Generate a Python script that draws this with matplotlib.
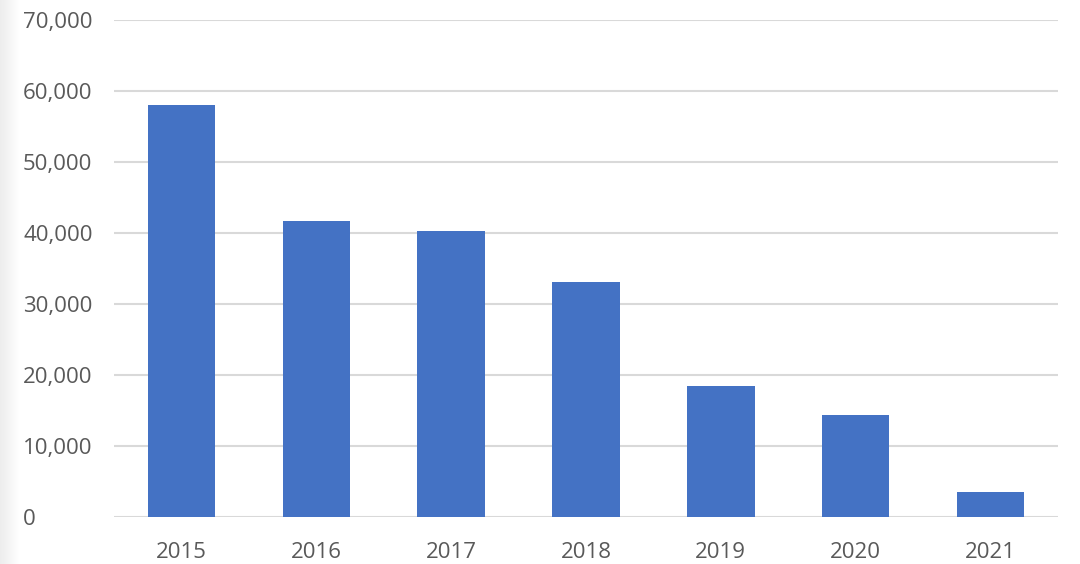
import numpy as np
import matplotlib.pyplot as plt
from matplotlib.ticker import FuncFormatter

# data
years = ['2015', '2016', '2017', '2018', '2019', '2020', '2021']
values = [58000, 41650, 40350, 33150, 18450, 14300, 3500]
yticks = [0, 10000, 20000, 30000, 40000, 50000, 60000, 70000]

bar_color = '#4472C4'
grid_color = '#D9D9D9'
label_color = '#595959'

plt.rcParams['font.family'] = ['Open Sans', 'DejaVu Sans']

fig = plt.figure(figsize=(10.8, 5.64), dpi=100)
ax = fig.add_axes([0.1056, 0.0833, 0.874, 0.8812])

x = np.arange(len(years))
ax.bar(x, values, width=0.5, color=bar_color, zorder=3)

ax.set_xlim(-0.5, len(years) - 0.5)
ax.set_ylim(0, 70000)
ax.set_yticks(yticks)
ax.yaxis.set_major_formatter(FuncFormatter(lambda v, p: f'{int(v):,}'))
ax.set_xticks(x)
ax.set_xticklabels(years)

ax.grid(axis='y', color=grid_color, linewidth=1.5, zorder=0)
for s in ['top', 'right', 'left', 'bottom']:
    ax.spines[s].set_visible(False)

ax.tick_params(axis='both', length=0, labelsize=16, labelcolor=label_color)
ax.tick_params(axis='x', pad=18)
ax.tick_params(axis='y', pad=65.5)
for lab in ax.get_yticklabels():
    lab.set_horizontalalignment('left')

# faint grey shading at the left edge like the screenshot
grad = np.linspace(0.93, 1.0, 20).reshape(1, -1)
fig.figimage(np.dstack([grad, grad, grad]).repeat(564, axis=0), xo=0, yo=0, zorder=-1)

fig.savefig('out.png', dpi=100)
